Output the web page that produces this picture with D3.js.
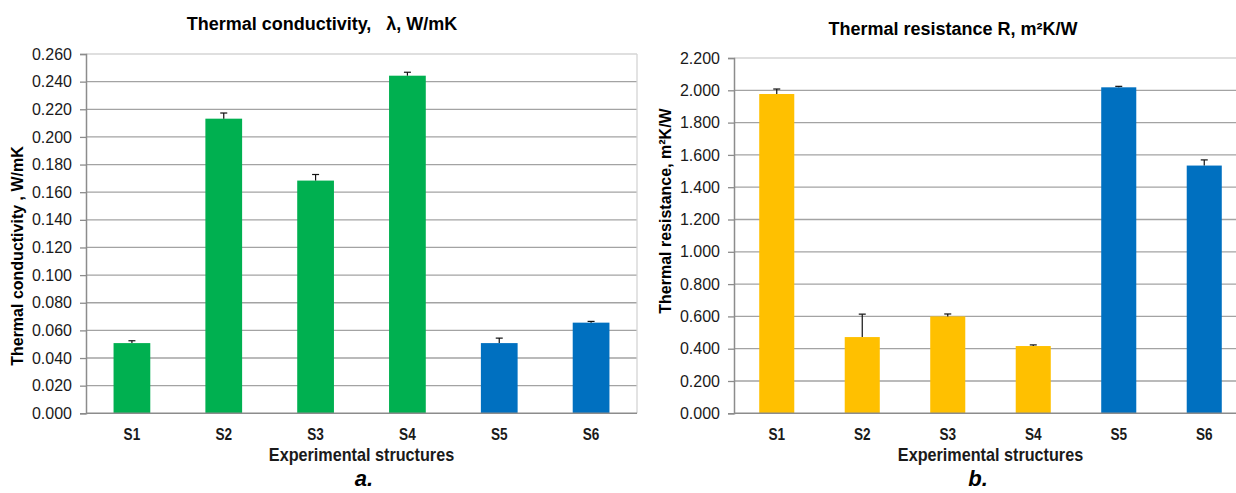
<!DOCTYPE html>
<html>
<head>
<meta charset="utf-8">
<script src="https://cdn.jsdelivr.net/npm/d3@7"></script>
<style>
  html, body { margin: 0; padding: 0; background: #fff; }
  svg { display: block; font-family: Arial, "Liberation Sans", sans-serif; }
</style>
</head>
<body>
<svg id="fig" width="1236" height="493"></svg>
<script>
// Sample structures
const categories = ["S1", "S2", "S3", "S4", "S5", "S6"];

// Panel a: thermal conductivity λ (W/mK) with upper error
const conductivity = [0.0508, 0.2132, 0.1684, 0.2443, 0.0508, 0.0656];
const conductivityErr = [0.0017, 0.0041, 0.0044, 0.0025, 0.0036, 0.0009];
const conductivityTicks = [0, 0.02, 0.04, 0.06, 0.08, 0.10, 0.12, 0.14, 0.16, 0.18, 0.20, 0.22, 0.24, 0.26];

// Panel b: thermal resistance R (m²K/W) with upper error
const resistance = [1.977, 0.472, 0.600, 0.4165, 2.0185, 1.534];
const resistanceErr = [0.031, 0.142, 0.015, 0.007, 0.006, 0.035];
const resistanceTicks = [0, 0.2, 0.4, 0.6, 0.8, 1.0, 1.2, 1.4, 1.6, 1.8, 2.0, 2.2];

// Bar colours per sample
const colorsA = ["#00B050", "#00B050", "#00B050", "#00B050", "#0070C0", "#0070C0"];
const colorsB = ["#FFC000", "#FFC000", "#FFC000", "#FFC000", "#0070C0", "#0070C0"];

const svg = d3.select("#fig");

function panel(cfg) {
  const { left, right, top, bottom, values, errors, ticks, colors, yMax } = cfg;
  const g = svg.append("g");

  const x = d3.scaleBand().domain(categories).range([left, right])
    .paddingInner(cfg.pad).paddingOuter(cfg.pad / 2);
  const y = d3.scaleLinear().domain([0, yMax]).range([bottom, top]);

  // horizontal gridlines
  g.append("g").selectAll("line")
    .data(ticks.filter(t => t > 0 && t < yMax - 1e-9))
    .join("line")
    .attr("x1", left).attr("x2", right)
    .attr("y1", d => y(d)).attr("y2", d => y(d))
    .attr("stroke", "#a3a3a3").attr("stroke-width", 1.3);

  // plot-area frame (top / right)
  g.append("line").attr("x1", left).attr("x2", right)
    .attr("y1", y(yMax)).attr("y2", y(yMax))
    .attr("stroke", "#d4d4d4").attr("stroke-width", 1.3);
  if (cfg.rightBorder) {
    g.append("line").attr("x1", right).attr("x2", right)
      .attr("y1", y(yMax)).attr("y2", y(0))
      .attr("stroke", "#d4d4d4").attr("stroke-width", 1.3);
  }

  // bars
  g.append("g").selectAll("rect")
    .data(values)
    .join("rect")
    .attr("x", (d, i) => x(categories[i]))
    .attr("width", x.bandwidth())
    .attr("y", d => y(d))
    .attr("height", d => y(0) - y(d))
    .attr("fill", (d, i) => colors[i]);

  // upper error bars
  const eb = g.append("g").attr("stroke", "#111").attr("stroke-width", 1.2);
  values.forEach((v, i) => {
    const cx = x(categories[i]) + x.bandwidth() / 2;
    eb.append("line").attr("x1", cx).attr("x2", cx)
      .attr("y1", y(v)).attr("y2", y(v + errors[i]));
    eb.append("line").attr("x1", cx - 3.5).attr("x2", cx + 3.5)
      .attr("y1", y(v + errors[i])).attr("y2", y(v + errors[i]));
  });

  // y axis
  const yAxis = d3.axisLeft(y).tickValues(ticks).tickFormat(d3.format(".3f"))
    .tickSize(6).tickPadding(8);
  const ya = g.append("g").attr("transform", `translate(${left},0)`).call(yAxis);
  ya.select(".domain").attr("stroke", "#8c8c8c").attr("stroke-width", 1.5);
  ya.selectAll(".tick line").attr("stroke", "#8c8c8c").attr("stroke-width", 1.3);
  ya.selectAll(".tick text").attr("font-size", 16).attr("fill", "#1a1a1a")
    .attr("font-family", "Arial, 'Liberation Sans', sans-serif");

  // x axis baseline
  g.append("line").attr("x1", left).attr("x2", right)
    .attr("y1", y(0)).attr("y2", y(0))
    .attr("stroke", "#8c8c8c").attr("stroke-width", 1.5);

  // category labels (narrow face)
  g.append("g").selectAll("text")
    .data(categories)
    .join("text")
    .attr("transform", d => `translate(${x(d) + x.bandwidth() / 2},${bottom + 27}) scale(0.8,1)`)
    .attr("text-anchor", "middle")
    .attr("font-size", 17)
    .attr("font-weight", "bold")
    .attr("fill", "#1a1a1a")
    .text(d => d);

  // x title
  g.append("text")
    .attr("transform", `translate(${(left + cfg.plotRight) / 2},${bottom + 48}) scale(0.9,1)`)
    .attr("text-anchor", "middle")
    .attr("font-size", 18).attr("font-weight", "bold").attr("fill", "#1a1a1a")
    .text("Experimental structures");

  // y title
  g.append("text")
    .attr("transform", `translate(${cfg.yLabelX},${cfg.yLabelY}) rotate(-90)`)
    .attr("text-anchor", "middle")
    .attr("font-size", 16).attr("font-weight", "bold").attr("fill", "#000")
    .text(cfg.yLabel);

  // chart title
  g.append("text")
    .attr("x", cfg.titleX).attr("y", cfg.titleY)
    .attr("text-anchor", "middle")
    .attr("font-size", 18).attr("font-weight", "bold").attr("fill", "#000")
    .attr("xml:space", "preserve")
    .text(cfg.title);

  // panel letter
  g.append("text")
    .attr("x", cfg.letterX).attr("y", 486)
    .attr("text-anchor", "middle")
    .attr("font-size", 22).attr("font-weight", "bold").attr("font-style", "italic")
    .attr("fill", "#000")
    .text(cfg.letter);
}

panel({
  left: 86, right: 637, plotRight: 637, top: 54, bottom: 413.3,
  values: conductivity, errors: conductivityErr, ticks: conductivityTicks,
  colors: colorsA, yMax: 0.26, pad: 0.6, rightBorder: true,
  yLabel: "Thermal conductivity , W/mK", yLabelX: 23, yLabelY: 256,
  title: "Thermal conductivity,   \u03BB, W/mK", titleX: 322, titleY: 30,
  letter: "a.", letterX: 364
});

panel({
  left: 734, right: 1247, plotRight: 1247, top: 58, bottom: 413.3,
  values: resistance, errors: resistanceErr, ticks: resistanceTicks,
  colors: colorsB, yMax: 2.2, pad: 0.59, rightBorder: false,
  yLabel: "Thermal resistance, m\u00B2K/W", yLabelX: 671, yLabelY: 211,
  title: "Thermal resistance R, m\u00B2K/W", titleX: 953, titleY: 35,
  letter: "b.", letterX: 978
});
</script>
</body>
</html>
